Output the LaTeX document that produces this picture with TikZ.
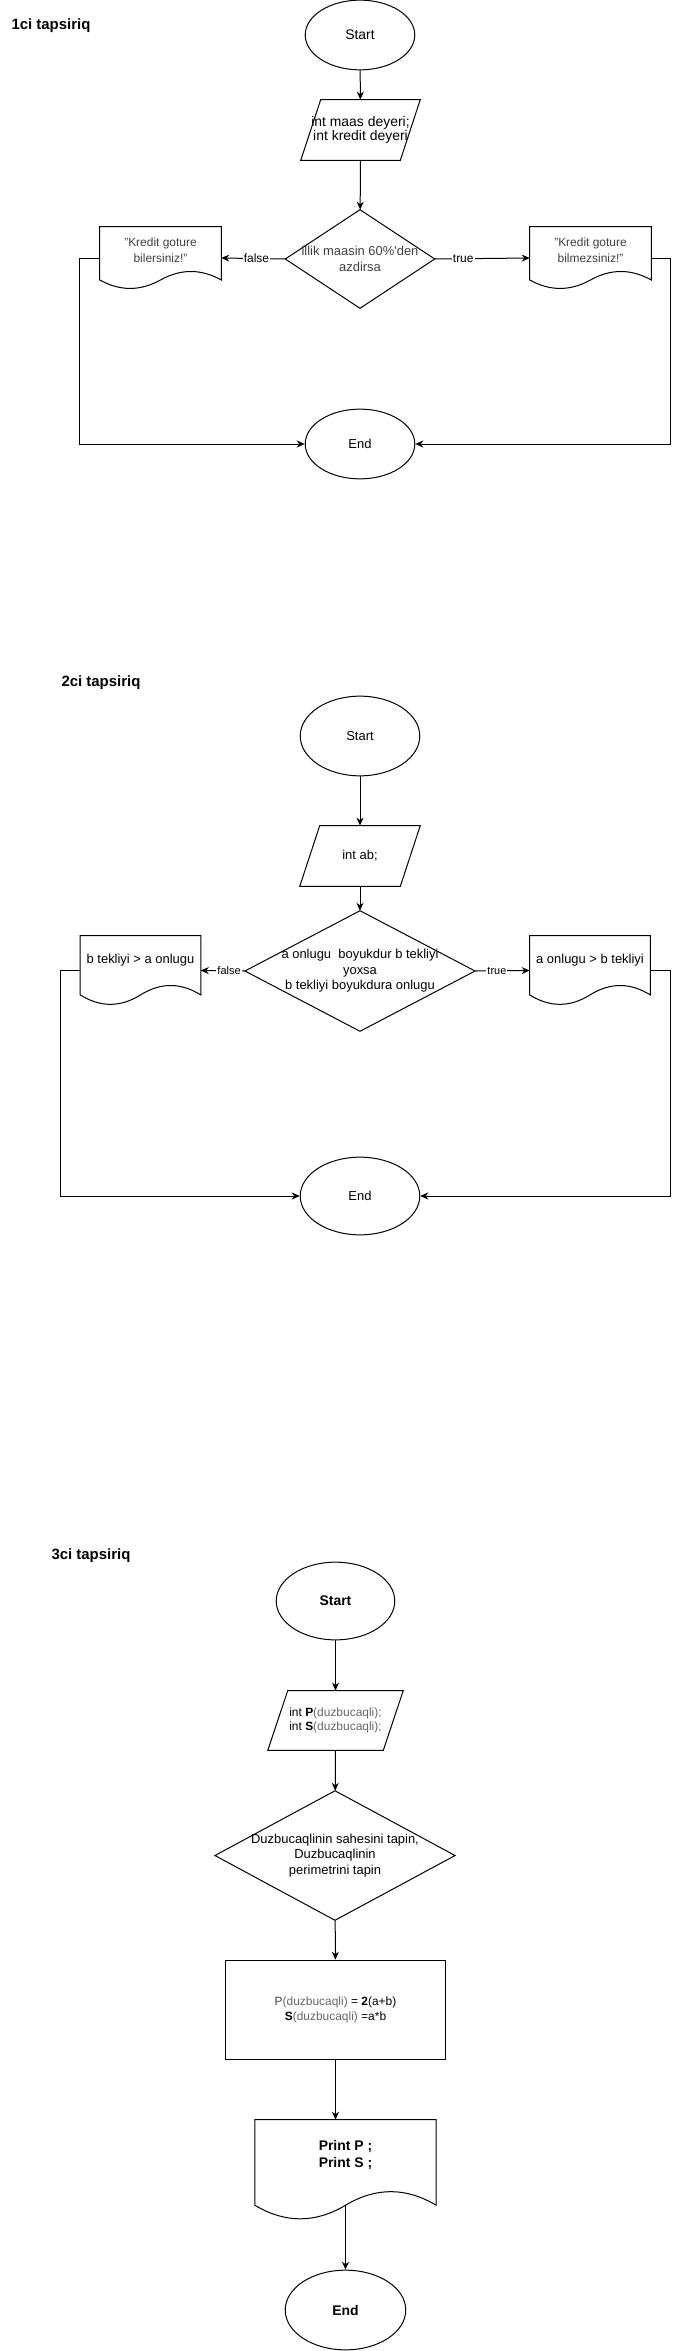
\documentclass[tikz,border=0pt]{standalone}
\usepackage{fontspec}
\setmainfont{Liberation Sans}
\usetikzlibrary{shapes.geometric,arrows.meta,calc}
\definecolor{txtgray}{HTML}{404040}
\definecolor{midgray}{HTML}{666666}

\begin{document}
\begin{tikzpicture}[x=1bp,y=-1bp,line width=1bp,
  every node/.style={inner sep=0,font=\fontsize{12}{14.5}\selectfont},
  f13/.style={font=\fontsize{13}{15.5}\selectfont},
  f14/.style={font=\fontsize{14}{14}\selectfont},
  heading/.style={anchor=west,font=\bfseries\fontsize{15}{18}\selectfont},
  term/.style={ellipse,draw,minimum width=110,minimum height=70},
  txtbox/.style={rectangle,align=center},
  doctxt/.style={align=center,yshift=#1},
  arr/.style={-{Stealth[length=8bp,width=7bp]}},
  tag/.style={fill=white,inner sep=1bp},
  big/.style={font=\bfseries\fontsize{14}{17}\selectfont}]
 \useasboundingbox (0,0) rectangle (679,2351);

 \node[heading] (t1) at (11,26) {1ci tapsiriq};
 \node[term,f14] (s1) at (360,35) {Start};
 \node[txtbox,f14,minimum width=119,minimum height=60] (i1) at (360.5,130) {int maas deyeri;\\int kredit deyeri};
 \node[txtbox,f13,minimum width=149,minimum height=98,text=txtgray] (q1) at (360,259) {illik maasin 60\%{\textquotesingle}den\\azdirsa};
 \node[txtbox,minimum width=121,minimum height=62,label={[doctxt=8bp,text=txtgray,font=\fontsize{12}{16}\selectfont]center:{"Kredit goture\\bilersiniz!"}}] (n1) at (160.5,258) {};
 \node[txtbox,minimum width=121,minimum height=62,label={[doctxt=8bp,text=txtgray,font=\fontsize{12}{16}\selectfont]center:{"Kredit goture\\bilmezsiniz!"}}] (y1) at (590.5,258) {};
 \node[term,f13] (e1) at (360,444) {End};
 \draw[arr] (s1) -- (i1);
 \draw[arr] (i1) -- (q1);
 \draw[arr] (q1.west) -- node[tag,pos=.45] {false} (n1.east);
 \draw[arr] (q1.east) -- node[tag,pos=.3] {true} (y1.west);
 \draw[arr] (n1.west) -- ++(-20,0) |- (e1.west);
 \draw[arr] (y1.east) -- ++(19,0) |- (e1.east);

 \node[heading] (t2) at (61,683) {2ci tapsiriq};
 \node[term,f13,minimum width=120,minimum height=80] (s2) at (360,736) {Start};
 \node[txtbox,f13,minimum width=120,minimum height=60] (i2) at (360,856) {int ab;};
 \node[txtbox,f13,minimum width=230,minimum height=120] (q2) at (360,971) {a onlugu\ \ boyukdur b tekliyi\\yoxsa\\b tekliyi boyukdura onlugu};
 \node[txtbox,minimum width=120,minimum height=69,label={[doctxt=10bp,f13]center:{b tekliyi > a onlugu}}] (n2) at (140.5,970.5) {};
 \node[txtbox,minimum width=120,minimum height=69,label={[doctxt=10bp,f13]center:{a onlugu > b tekliyi}}] (y2) at (590,970.5) {};
 \node[term,f13,minimum width=120,minimum height=78] (e2) at (360,1196) {End};
 \draw[arr] (s2) -- (i2);
 \draw[arr] (i2) -- (q2);
 \draw[arr] (q2.west) -- node[tag,pos=.36,font=\fontsize{11}{13}\selectfont] {false} (n2.east);
 \draw[arr] (q2.east) -- node[tag,pos=.4,font=\fontsize{11}{13}\selectfont] {true} (y2.west);
 \draw[arr] (n2.west) -- ++(-20,0) |- (e2.west);
 \draw[arr] (y2.east) -- ++(20,0) |- (e2.east);

 \node[heading] (t3) at (51,1556) {3ci tapsiriq};
 \node[term,big,minimum width=119,minimum height=78] (s3) at (335.5,1601) {Start};
 \node[txtbox,minimum width=135,minimum height=59] (i3) at (335.5,1720.5) {int \textbf{P}\textcolor{midgray}{(duzbucaqli);}\\int \textbf{S}\textcolor{midgray}{(duzbucaqli);}};
 \node[txtbox,f13,minimum width=240,minimum height=129] (q3) at (335,1855.5) {Duzbucaqlinin sahesini tapin,\\Duzbucaqlinin\\perimetrini tapin};
 \node[txtbox,draw,minimum width=221,minimum height=100] (c3) at (335.5,2010) {\textcolor{txtgray}{P}\textcolor{midgray}{(duzbucaqli)} = \textbf{2}(a+b)\\\textbf{S}\textcolor{midgray}{(duzbucaqli)} =a*b};
 \node[txtbox,minimum width=181,minimum height=100,label={[doctxt=15bp,big]center:{Print P ;\\Print S ;}}] (p3) at (345.5,2170) {};
 \node[term,big,minimum width=121,minimum height=80] (e3) at (345.5,2310) {End};
 \draw[arr] (s3) -- (i3);
 \draw[arr] (i3) -- (q3);
 \draw[arr] (q3) -- (c3);
 \draw[arr] (c3.south) -- (c3.south |- p3.north);
 \draw[arr] ([yshift=15bp]p3.south) -- (e3);

 \foreach \d in {i1,i2,i3}
  \draw ([xshift=20bp]\d.north west) -- (\d.north east) -- ([xshift=-20bp]\d.south east) -- (\d.south west) -- cycle;
 \foreach \d in {q1,q2,q3}
  \draw (\d.north) -- (\d.east) -- (\d.south) -- (\d.west) -- cycle;
 \foreach \d in {n1,y1,n2,y2,p3}
  \draw let \p1=(\d.north west), \p2=(\d.south east), \n1={\x2-\x1}, \n2={\y2-\y1} in
   (\p1) -- (\x2,\y1) -- (\x2,\y1+0.85*\n2)
   .. controls (\x1+0.833*\n1,\y1+0.67*\n2) and (\x1+0.667*\n1,\y1+0.67*\n2) .. (\x1+0.5*\n1,\y1+0.85*\n2)
   .. controls (\x1+0.333*\n1,\y1+1.03*\n2) and (\x1+0.167*\n1,\y1+1.03*\n2) .. (\x1,\y1+0.85*\n2) -- cycle;
\end{tikzpicture}
\end{document}
